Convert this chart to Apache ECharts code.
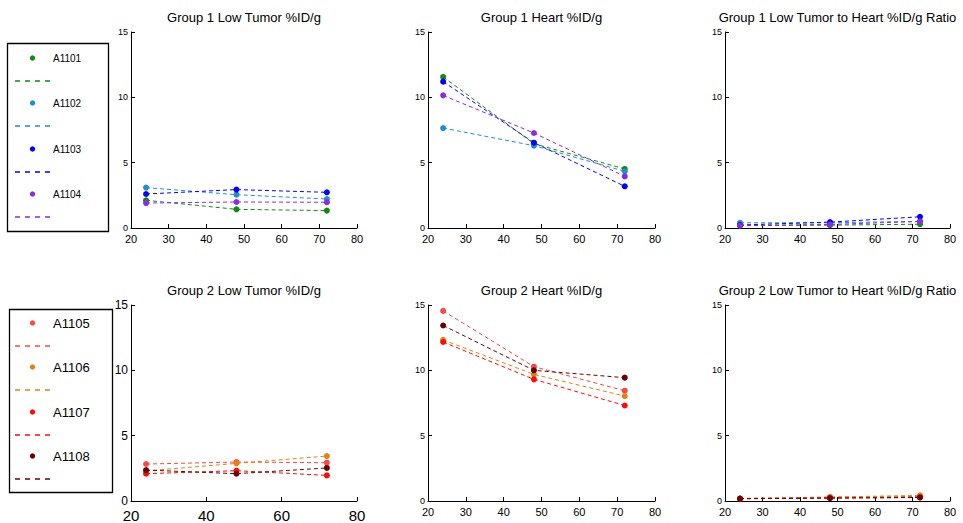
<!DOCTYPE html>
<html><head><meta charset="utf-8">
<script src="https://cdn.jsdelivr.net/npm/echarts@6/dist/echarts.min.js"></script>
<style>html,body{margin:0;padding:0;background:#fff}#c{width:963px;height:523px}</style>
</head><body><div id="c"></div>
<script>
// ---- data ----
const hours = [24, 48, 72];
const group1Names = ['A1101', 'A1102', 'A1103', 'A1104'];
const group2Names = ['A1105', 'A1106', 'A1107', 'A1108'];
const group1Colors = ['#118a11', '#1e8fd2', '#0000ff', '#8b2be2'];
const group2Colors = ['#ff4545', '#e3830f', '#ff0a0a', '#6b0000'];

const g1Tumor = [[2.12, 1.43, 1.33], [3.09, 2.55, 2.22], [2.60, 2.94, 2.73], [1.91, 1.99, 1.97]];
const g1Heart = [[11.56, 6.45, 4.52], [7.65, 6.30, 4.34], [11.20, 6.53, 3.19], [10.15, 7.27, 3.95]];
const g1Ratio = [[0.18, 0.22, 0.29], [0.40, 0.40, 0.51], [0.23, 0.45, 0.86], [0.19, 0.27, 0.50]];

const g2Tumor = [[2.83, 2.98, 2.93], [2.30, 2.88, 3.44], [2.09, 2.32, 1.96], [2.37, 2.09, 2.53]];
const g2Heart = [[14.55, 10.28, 8.44], [12.33, 9.69, 8.03], [12.17, 9.31, 7.31], [13.43, 10.00, 9.44]];
const g2Ratio = [[0.19, 0.29, 0.35], [0.19, 0.30, 0.43], [0.17, 0.25, 0.27], [0.18, 0.21, 0.27]];

const panelTitles = [
  'Group 1 Low Tumor %ID/g', 'Group 1 Heart %ID/g', 'Group 1 Low Tumor to Heart %ID/g Ratio',
  'Group 2 Low Tumor %ID/g', 'Group 2 Heart %ID/g', 'Group 2 Low Tumor to Heart %ID/g Ratio'
];
const xTicksFine = [20, 30, 40, 50, 60, 70, 80];
const xTicksCoarse = [20, 40, 60, 80];
const yTicks = [0, 5, 10, 15];

// ---- layout ----
const FONT = '"Liberation Sans", Arial, Helvetica, sans-serif';
const panels = [
  { left: 131, top: 32, width: 226, height: 196, data: g1Tumor, names: group1Names, colors: group1Colors, xt: xTicksFine, xfs: 11, yfs: 9, xm: 5 },
  { left: 428, top: 32, width: 227, height: 196, data: g1Heart, names: group1Names, colors: group1Colors, xt: xTicksFine, xfs: 11, yfs: 9, xm: 5 },
  { left: 725, top: 32, width: 225, height: 196, data: g1Ratio, names: group1Names, colors: group1Colors, xt: xTicksFine, xfs: 11, yfs: 9, xm: 5 },
  { left: 131, top: 305, width: 226, height: 196, data: g2Tumor, names: group2Names, colors: group2Colors, xt: xTicksCoarse, xfs: 15, yfs: 12, xm: 7 },
  { left: 428, top: 305, width: 227, height: 196, data: g2Heart, names: group2Names, colors: group2Colors, xt: xTicksFine, xfs: 11, yfs: 9, xm: 5 },
  { left: 725, top: 305, width: 225, height: 196, data: g2Ratio, names: group2Names, colors: group2Colors, xt: xTicksFine, xfs: 11, yfs: 9, xm: 5 }
];

const grid = [], xAxis = [], yAxis = [], series = [], graphic = [];
panels.forEach((p, i) => {
  grid.push({ left: p.left, top: p.top, width: p.width, height: p.height, containLabel: false });
  const axisCommon = {
    axisLine: { show: true, onZero: false, lineStyle: { color: '#000', width: 1 } },
    axisTick: { show: true, inside: true, length: 4, lineStyle: { color: '#000', width: 1 } },
    splitLine: { show: false }
  };
  xAxis.push(Object.assign({
    type: 'value', gridIndex: i, min: p.xt[0], max: p.xt[p.xt.length - 1], interval: p.xt[1] - p.xt[0],
    axisLabel: { fontSize: p.xfs, color: '#000', fontFamily: FONT, margin: p.xm }
  }, axisCommon));
  yAxis.push(Object.assign({
    type: 'value', gridIndex: i, min: yTicks[0], max: yTicks[yTicks.length - 1], interval: yTicks[1] - yTicks[0],
    axisLabel: { fontSize: p.yfs, color: '#000', fontFamily: FONT, margin: 3 }
  }, axisCommon));
  p.data.forEach((vals, k) => {
    series.push({
      type: 'line', name: p.names[k], xAxisIndex: i, yAxisIndex: i,
      data: hours.map((h, j) => [h, vals[j]]),
      symbol: 'circle', symbolSize: 6, showSymbol: true,
      itemStyle: { color: p.colors[k] },
      lineStyle: { color: p.colors[k], width: 1, type: [4, 3] },
      emphasis: { disabled: true }, animation: false
    });
  });
  graphic.push({
    type: 'text', x: p.left + p.width / 2, y: p.top - 15,
    style: { text: panelTitles[i], font: '13px ' + FONT, fill: '#000', align: 'center', verticalAlign: 'middle', textAlign: 'center', textVerticalAlign: 'middle' }
  });
});

// legends
function addLegend(box, names, colors, y0, gap, fs) {
  graphic.push({ type: 'rect', shape: { x: box.x, y: box.y, width: box.w, height: box.h }, style: { fill: '#fff', stroke: '#000', lineWidth: 1.3 } });
  names.forEach((n, k) => {
    const y = Math.round(y0 + k * gap);
    graphic.push({ type: 'circle', shape: { cx: 32.5, cy: y, r: 2.7 }, style: { fill: colors[k] } });
    graphic.push({ type: 'text', x: 53, y: y, style: { text: n, font: fs + 'px ' + FONT, fill: '#000', align: 'left', verticalAlign: 'middle', textAlign: 'left', textVerticalAlign: 'middle' } });
    graphic.push({ type: 'line', shape: { x1: 15, y1: y + 23, x2: 50, y2: y + 23 }, style: { stroke: colors[k], lineWidth: 1.6, lineDash: [5, 5] } });
  });
}
addLegend({ x: 7.5, y: 43.5, w: 101, h: 188 }, group1Names, group1Colors, 57.5, 45.6, 10);
addLegend({ x: 9.5, y: 309.5, w: 103, h: 183 }, group2Names, group2Colors, 322.7, 44.5, 13);

const chart = echarts.init(document.getElementById('c'), null, { renderer: 'svg' });
chart.setOption({ animation: false, backgroundColor: '#fff', grid, xAxis, yAxis, series, graphic });
</script>
</body></html>
